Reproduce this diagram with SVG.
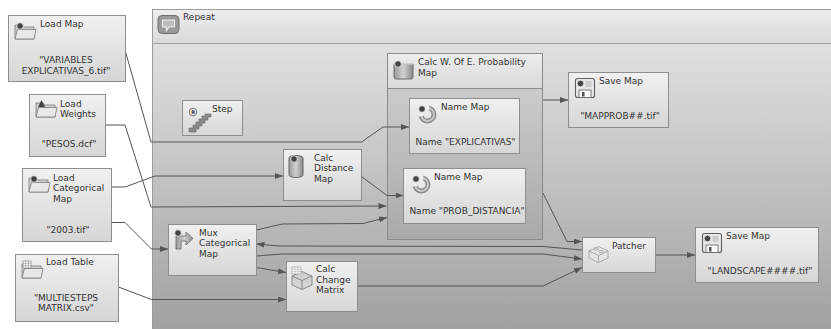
<svg xmlns="http://www.w3.org/2000/svg" width="831" height="329" viewBox="0 0 831 329">
<defs>
<linearGradient id="gBody" gradientUnits="userSpaceOnUse" x1="0" y1="43" x2="0" y2="329">
<stop offset="0" stop-color="#e0e0e0"/><stop offset="1" stop-color="#a1a1a1"/>
</linearGradient>
<linearGradient id="gHead" x1="0" y1="0" x2="0" y2="1">
<stop offset="0" stop-color="#ededed"/><stop offset="1" stop-color="#d9d9d9"/>
</linearGradient>
<linearGradient id="gNode" x1="0" y1="0" x2="0" y2="1">
<stop offset="0" stop-color="#f0f0f0"/><stop offset="1" stop-color="#d6d6d6"/>
</linearGradient>
<linearGradient id="gCont" x1="0" y1="0" x2="0" y2="1">
<stop offset="0" stop-color="#d3d3d3"/><stop offset="1" stop-color="#a9a9a9"/>
</linearGradient>
<linearGradient id="gIcon" x1="0" y1="0" x2="1" y2="0">
<stop offset="0" stop-color="#9a9a9a"/><stop offset="0.5" stop-color="#d0d0d0"/><stop offset="1" stop-color="#8a8a8a"/>
</linearGradient>
<marker id="arr" viewBox="0 0 8 6" refX="8" refY="3" markerWidth="8" markerHeight="6" markerUnits="userSpaceOnUse" orient="auto">
<path d="M0,0 L8,3 L0,6 z" fill="#555"/>
</marker>
<g id="folder">
<path d="M0,3 h7 l2,2 h10 v12 h-19 z" fill="#cfcfcf" stroke="#7a7a7a" stroke-width="0.8"/>
<path d="M0,17 l2.5,-9.5 h18.5 l-2,9.5 z" fill="#e8e8e8" stroke="#7a7a7a" stroke-width="0.8"/>
</g>
<g id="floppy">
<rect x="0" y="0" width="19" height="19" rx="2" fill="#e8e8e8" stroke="#5f5f5f" stroke-width="1.1"/>
<rect x="3.5" y="11.5" width="12" height="7.5" fill="#fafafa" stroke="#5f5f5f" stroke-width="0.8"/>
<rect x="6.5" y="13.5" width="2.5" height="4.5" fill="#555"/>
<path d="M10,3.5 h6 M10,5.5 h6 M10,7.5 h6" stroke="#999" stroke-width="0.7"/>
<circle cx="5" cy="5" r="3.3" fill="#444" stroke="#eee" stroke-width="0.8"/>
</g>
<g id="magnet">
<path d="M5,11 A6.5,6.5 0 1 0 12,4" fill="none" stroke="#8c8c8c" stroke-width="5"/>
<path d="M5,11 A6.5,6.5 0 1 0 12,4" fill="none" stroke="#c9c9c9" stroke-width="2"/>
<path d="M2.5,11 h5 M12,1.5 v5" stroke="#f2f2f2" stroke-width="2.5"/>
<circle cx="6" cy="5" r="3.3" fill="#444" stroke="#eee" stroke-width="0.8"/>
</g>
<g id="mapdot"><circle cx="0" cy="0" r="3.3" fill="#444" stroke="#eee" stroke-width="0.8"/></g>
</defs>
<style>
text{font-family:"DejaVu Sans","Liberation Sans",sans-serif;font-size:9px;fill:#333}
.c{text-anchor:middle}
.node{fill:url(#gNode);stroke:#8e8e8e;stroke-width:1}
.edge{fill:none;stroke:#555;stroke-width:1;marker-end:url(#arr)}
</style>
<rect width="831" height="329" fill="#ffffff"/>

<g id="repeat">
<rect x="152.5" y="9.5" width="690" height="330" fill="url(#gBody)" stroke="#9c9c9c"/>
<rect x="152.5" y="9.5" width="690" height="34" fill="url(#gHead)" stroke="#9c9c9c"/>
<rect x="158" y="15.5" width="21" height="18" rx="4" fill="#999" stroke="#707070"/>
<path d="M162.5,20 h12 v7 h-5.5 l-2.5,3.5 v-3.5 h-4 z" fill="#bdbdbd" stroke="#eee" stroke-width="1.1"/>
<text x="183" y="20">Repeat</text>
</g>

<g id="calcwoe">
<rect x="387.5" y="53.5" width="155" height="186" fill="url(#gCont)" stroke="#8a8a8a"/>
<rect x="387.5" y="53.5" width="155" height="35" fill="url(#gHead)" stroke="#8a8a8a"/>
<path d="M394,64 h19 v13 a2,2 0 0 1 -2,2 h-15 a2,2 0 0 1 -2,-2 z" fill="url(#gIcon)" stroke="#6a6a6a"/>
<path d="M394,64 h19" stroke="#eee" stroke-width="1"/>
<use href="#mapdot" x="398" y="64"/>
<text x="418" y="65">Calc W. Of E. Probability</text>
<text x="418" y="75.5">Map</text>
</g>

<g id="connectors">
<path class="edge" d="M125,50 L151,142 L361.5,142 L383,127 L409,127"/>
<path class="edge" d="M105,125 L125,125 L151,207 L386.5,206"/>
<path class="edge" d="M111,187 L125,187 L155,176 L283,176"/>
<path class="edge" d="M111,222.5 L125,222.5 L151.5,249 L168,249"/>
<path class="edge" d="M118.5,287 L151.5,299.5 L286,299.5"/>
<path class="edge" d="M361.5,176.5 L387,195.5 L403.5,195.5"/>
<path class="edge" d="M543,100 L568,100"/>
<path class="edge" d="M543,193 L567,241.5 L582,241.5"/>
<path class="edge" d="M582,250 L543,246.5 L280,246 L256.5,244"/>
<path class="edge" d="M256.5,256 L282,254 L543,254 L582,259"/>
<path class="edge" d="M256.5,267.5 L286,272.5"/>
<path class="edge" d="M358,286 L543,286 L582,267.5"/>
<path class="edge" d="M656,255 L695,255"/>
<path class="edge" d="M256.5,230 L282,224 L363,223.5 L387,217.5"/>
</g>

<g id="loadmap">
<rect class="node" x="8.5" y="15.5" width="117" height="66"/>
<use href="#folder" x="15" y="22"/>
<use href="#mapdot" x="20" y="26"/>
<text x="40" y="27">Load Map</text>
<text class="c" x="66" y="63">"VARIABLES</text>
<text class="c" x="66" y="74">EXPLICATIVAS_6.tif"</text>
</g>

<g id="loadweights">
<rect class="node" x="29.5" y="94.5" width="76" height="62"/>
<use href="#folder" x="36" y="100"/>
<path d="M38,107 l3.5,-7 l3.5,7 z" fill="#444"/>
<text x="60" y="107">Load</text>
<text x="60" y="117">Weights</text>
<text class="c" x="69" y="147">"PESOS.dcf"</text>
</g>

<g id="loadcat">
<rect class="node" x="22.5" y="168.5" width="89" height="73"/>
<use href="#folder" x="29" y="175"/>
<use href="#mapdot" x="34" y="179"/>
<text x="53" y="181">Load</text>
<text x="53" y="191">Categorical</text>
<text x="53" y="201.5">Map</text>
<text class="c" x="68" y="233">"2003.tif"</text>
</g>

<g id="loadtable">
<rect class="node" x="15.5" y="254.5" width="103" height="67"/>
<use href="#folder" x="22" y="261"/>
<rect x="23" y="261" width="8" height="7" fill="#fafafa" stroke="#777" stroke-width="0.6"/>
<path d="M23,263.3 h8 M23,265.6 h8 M25.7,261 v7 M28.4,261 v7" stroke="#888" stroke-width="0.5"/>
<text x="46" y="265">Load Table</text>
<text class="c" x="66" y="301">"MULTIESTEPS</text>
<text class="c" x="66" y="311">MATRIX.csv"</text>
</g>

<g id="step">
<rect class="node" x="182.5" y="100.5" width="60" height="35"/>
<path d="M189,128 h4 v-3 h3 v-3 h3 v-3 h3 v-3 h3 v-2 h6 v3 h-3 v3 h-3 v3 h-3 v3 h-3 v3 h-3 v3 h-7 z" fill="#8a8a8a" stroke="#666" stroke-width="0.6"/>
<circle cx="193" cy="112" r="3.8" fill="#f4f4f4" stroke="#555" stroke-width="0.8"/>
<text x="191.2" y="114" style="font-size:5px;font-weight:bold">R</text>
<text x="212" y="112">Step</text>
</g>

<g id="calcdist">
<rect class="node" x="283.5" y="149.5" width="78" height="51"/>
<path d="M289,158 a7,2.5 0 0 1 14,0 v17 a7,2.5 0 0 1 -14,0 z" fill="url(#gIcon)" stroke="#666"/>
<use href="#mapdot" x="294" y="159"/>
<text x="314" y="161">Calc</text>
<text x="314" y="171">Distance</text>
<text x="314" y="181.5">Map</text>
</g>

<g id="namemap1">
<rect class="node" x="409.5" y="98.5" width="110" height="55"/>
<use href="#magnet" x="416" y="104"/>
<text x="441" y="110">Name Map</text>
<text class="c" x="465.5" y="145">Name "EXPLICATIVAS"</text>
</g>

<g id="namemap2">
<rect class="node" x="403.5" y="168.5" width="122" height="55"/>
<use href="#magnet" x="410" y="174"/>
<text x="434" y="179.5">Name Map</text>
<text class="c" x="467" y="214">Name "PROB_DISTANCIA"</text>
</g>

<g id="savemap1">
<rect class="node" x="568.5" y="72.5" width="100" height="55"/>
<use href="#floppy" x="575.5" y="78.5"/>
<text x="599" y="84">Save Map</text>
<text class="c" x="620" y="119">"MAPPROB##.tif"</text>
</g>

<g id="mux">
<rect class="node" x="168.5" y="224.5" width="88" height="51"/>
<path d="M176,236 h10 v-4 l7,6.5 l-7,6.5 v-4 h-5 v8 h-5 z" fill="url(#gIcon)" stroke="#666" stroke-width="0.8"/>
<use href="#mapdot" x="178" y="233"/>
<text x="199" y="236">Mux</text>
<text x="199" y="246">Categorical</text>
<text x="199" y="256.5">Map</text>
</g>

<g id="calcchange">
<rect class="node" x="286.5" y="261.5" width="71" height="50"/>
<path d="M292,276 l10,-4.5 l10,4.5 v9 l-10,4.5 l-10,-4.5 z" fill="#d2d2d2" stroke="#777" stroke-width="0.8"/>
<path d="M292,276 l10,4.5 l10,-4.5 M302,280.5 v9" fill="none" stroke="#777" stroke-width="0.8"/>
<rect x="292" y="267" width="9" height="7" fill="#fafafa" stroke="#888" stroke-width="0.5"/>
<path d="M292,269.3 h9 M292,271.6 h9 M295,267 v7 M298,267 v7" stroke="#aaa" stroke-width="0.5"/>
<text x="316" y="272">Calc</text>
<text x="316" y="282.5">Change</text>
<text x="316" y="293">Matrix</text>
</g>

<g id="patcher">
<rect class="node" x="582.5" y="237.5" width="73" height="35"/>
<path d="M589,251 l9.5,-4.5 l9.5,4.5 v7 l-9.5,4.5 l-9.5,-4.5 z" fill="#e4e4e4" stroke="#9a9a9a" stroke-width="0.8"/>
<path d="M589,251 l9.5,4.5 l9.5,-4.5 M598.5,255.5 v7" fill="none" stroke="#9a9a9a" stroke-width="0.8"/>
<ellipse cx="596" cy="249" rx="2.3" ry="1.1" fill="#d8d8d8" stroke="#9a9a9a" stroke-width="0.6"/>
<ellipse cx="601" cy="251.5" rx="2.3" ry="1.1" fill="#d8d8d8" stroke="#9a9a9a" stroke-width="0.6"/>
<text x="612" y="248.5">Patcher</text>
</g>

<g id="savemap2">
<rect class="node" x="695.5" y="227.5" width="123" height="55"/>
<use href="#floppy" x="702.5" y="233.5"/>
<text x="726" y="238.5">Save Map</text>
<text class="c" x="760" y="273.5">"LANDSCAPE####.tif"</text>
</g>
</svg>
